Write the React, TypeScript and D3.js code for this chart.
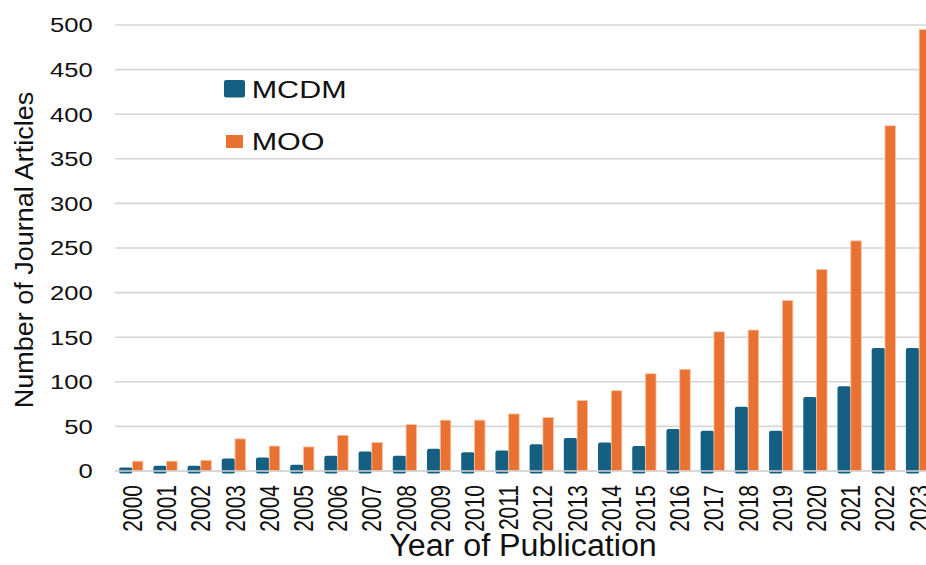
import React from "react";
import * as d3 from "d3";

const years = ["2000","2001","2002","2003","2004","2005","2006","2007","2008","2009","2010","2011","2012","2013","2014","2015","2016","2017","2018","2019","2020","2021","2022","2023"];
const mcdm = [4,6,6,14,15,7,17,22,17,25,21,23,30,37,32,28,47,45,72,45,83,95,138,138];
const moo = [11,11,12,36,28,27,40,32,52,57,57,64,60,79,90,109,114,156,158,191,226,258,387,495];
const yTicks = [0,50,100,150,200,250,300,350,400,450,500];
const seriesNames = ["MCDM","MOO"];

const W = 926, H = 565;
const BLUE = "#156082";
const ORANGE = "#E97132";
const FONT = "Arial, 'Liberation Sans', sans-serif";

export default function App() {
  const x = d3.scaleBand<string>().domain(years).range([115.3, 936.3]).padding(0);
  const y = d3.scaleLinear().domain([0, 500]).range([471, 25]);
  const bw = x.bandwidth();
  const wBlue = 13.3, wOrange = 10.5;

  return (
    <svg width={W} height={H} style={{ position: "fixed", left: 0, top: 0, background: "#fff" }} fontFamily={FONT}>
      <rect x={0} y={0} width={W} height={H} fill="#fff" />
      {yTicks.map(t => (
        <line key={"g"+t} x1={115} x2={W} y1={y(t)} y2={y(t)} stroke="#d6d6d6" strokeWidth={1.6} />
      ))}
      {years.map((yr, i) => {
        const c = (x(yr) as number) + bw / 2;
        return (
          <g key={yr}>
            <rect x={c - wBlue} y={y(mcdm[i])} width={wBlue} height={y(0) + 2.5 - y(mcdm[i])} rx={2} fill={BLUE} />
            <rect x={c} y={y(moo[i])} width={wOrange} height={y(0) - y(moo[i])} fill={ORANGE} stroke="#f6c3a6" strokeWidth={0.8} />
          </g>
        );
      })}
      <line x1={115} x2={W} y1={y(0)} y2={y(0)} stroke="#d6d6d6" strokeWidth={1.6} />
      {yTicks.map(t => (
        <text key={"t"+t} transform={`translate(92.7,${y(t) + 7.3}) scale(1.28,1)`} textAnchor="end" fontSize={20} fill="#111">{t}</text>
      ))}
      {years.map(yr => {
        const c = (x(yr) as number) + bw / 2;
        return (
          <text key={"l"+yr} transform={`translate(${c + 9.5},485) rotate(-90) scale(1,1.33)`} textAnchor="end" fontSize={21} fill="#111">{yr}</text>
        );
      })}
      <text transform="translate(523,556) scale(1.04,1)" textAnchor="middle" fontSize={31} fill="#111">Year of Publication</text>
      <text transform="translate(33,250) rotate(-90) scale(1,0.93)" textAnchor="middle" fontSize={27} fill="#111">Number of Journal Articles</text>
      <rect x={224} y={80} width={21} height={17.5} rx={2} fill={BLUE} />
      <text transform="translate(251.7,98.3) scale(1.31,1)" fontSize={23.3} fill="#111">{seriesNames[0]}</text>
      <rect x={226} y={135} width={17} height={13} fill={ORANGE} />
      <text transform="translate(251.7,150) scale(1.31,1)" fontSize={23.3} fill="#111">{seriesNames[1]}</text>
    </svg>
  );
}
